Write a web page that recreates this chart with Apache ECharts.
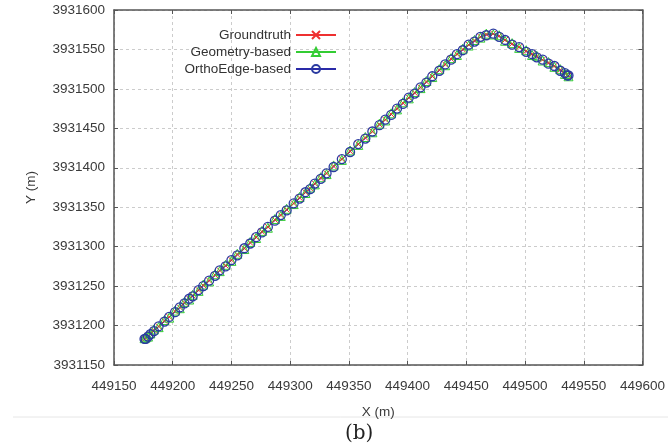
<!DOCTYPE html>
<html lang="en">
<head>
    <meta charset="UTF-8">
    <title>Trajectory</title>
    <style>
        html, body { margin: 0; padding: 0; background: #fff; }
        #main { width: 668px; height: 445px; }
    </style>
</head>
<body>
    <div id="main"></div>
    <script src="https://cdn.jsdelivr.net/npm/echarts@6/dist/echarts.min.js"></script>
    <script>
        // tick settings
        var xTicks = { min: 449150, max: 449600, step: 50 }
        var yTicks = { min: 3931150, max: 3931600, step: 50 }

        // shared x positions of the track (m)
        var trackX = [449176, 449177, 449179, 449181, 449184, 449188, 449193, 449197, 449202, 449206,
            449210, 449214, 449217, 449222, 449226, 449231, 449236, 449240, 449245, 449250,
            449255, 449261, 449266, 449271, 449276, 449281, 449287, 449292, 449297, 449303,
            449308, 449313, 449317, 449321, 449326, 449331, 449337, 449344, 449351, 449358,
            449364, 449370, 449376, 449381, 449386, 449391, 449396, 449401, 449406, 449411,
            449416, 449421, 449427, 449432, 449437, 449442, 449447, 449452, 449457, 449462,
            449467, 449473, 449478, 449483, 449489, 449495, 449501, 449506, 449510, 449515,
            449520, 449525, 449530, 449534, 449536, 449537]

        var groundtruthY = [3931183, 3931184, 3931187, 3931189, 3931194, 3931199, 3931206, 3931211, 3931218, 3931223,
            3931229, 3931234, 3931238, 3931245, 3931251, 3931257, 3931264, 3931270, 3931276, 3931283,
            3931290, 3931298, 3931305, 3931312, 3931319, 3931325, 3931334, 3931340, 3931347, 3931355,
            3931362, 3931369, 3931374, 3931380, 3931387, 3931393, 3931402, 3931411, 3931421, 3931430,
            3931438, 3931446, 3931455, 3931461, 3931468, 3931475, 3931482, 3931489, 3931495, 3931502,
            3931509, 3931516, 3931524, 3931531, 3931538, 3931544, 3931550, 3931556, 3931561, 3931566,
            3931569, 3931570, 3931567, 3931562, 3931557, 3931553, 3931548, 3931544, 3931541, 3931537,
            3931533, 3931529, 3931524, 3931520, 3931518, 3931517]

        var geometryY = [3931184, 3931185, 3931186, 3931190, 3931195, 3931198, 3931207, 3931210, 3931219, 3931222,
            3931230, 3931233, 3931239, 3931244, 3931252, 3931256, 3931265, 3931269, 3931277, 3931282,
            3931291, 3931297, 3931306, 3931311, 3931320, 3931324, 3931335, 3931339, 3931348, 3931354,
            3931363, 3931368, 3931375, 3931379, 3931388, 3931392, 3931403, 3931410, 3931422, 3931429,
            3931439, 3931445, 3931456, 3931460, 3931469, 3931474, 3931483, 3931488, 3931496, 3931501,
            3931510, 3931515, 3931525, 3931530, 3931539, 3931543, 3931551, 3931555, 3931562, 3931565,
            3931570, 3931569, 3931568, 3931561, 3931558, 3931552, 3931549, 3931543, 3931542, 3931536,
            3931534, 3931528, 3931525, 3931519, 3931519, 3931516]

        var orthoEdgeY = [3931183, 3931183, 3931186, 3931189, 3931193, 3931199, 3931205, 3931211, 3931217, 3931223,
            3931228, 3931234, 3931237, 3931245, 3931250, 3931257, 3931263, 3931270, 3931275, 3931283,
            3931289, 3931298, 3931304, 3931312, 3931318, 3931325, 3931333, 3931340, 3931346, 3931355,
            3931361, 3931369, 3931373, 3931380, 3931386, 3931393, 3931401, 3931411, 3931420, 3931430,
            3931437, 3931446, 3931454, 3931461, 3931467, 3931475, 3931481, 3931489, 3931494, 3931502,
            3931508, 3931516, 3931523, 3931531, 3931537, 3931544, 3931549, 3931556, 3931560, 3931566,
            3931568, 3931570, 3931566, 3931562, 3931556, 3931553, 3931547, 3931544, 3931540, 3931537,
            3931532, 3931529, 3931523, 3931520, 3931517, 3931517]

        function pairs(xs, ys) {
            return xs.map(function (x, i) { return [x, ys[i]] })
        }

        // plain numbers, no thousands separator
        function plain(v) { return String(v) }

        var labelFont = { fontFamily: 'Liberation Sans', fontSize: 13.5, color: '#3a3a3a' }
        var frameLine = { lineStyle: { color: '#555', width: 1.5 } }
        var innerTick = { inside: true, length: 4, lineStyle: { color: '#555' } }

        var myChart = echarts.init(document.getElementById('main'))
        var option = {
            backgroundColor: '#fff',
            animation: false,
            grid: { left: 114, right: 20, top: 10, bottom: 80 },
            legend: {
                orient: 'vertical',
                align: 'right',
                right: 326,
                top: 23,
                itemWidth: 40,
                itemHeight: 10,
                itemGap: 3,
                textStyle: { fontFamily: 'Liberation Sans', fontSize: 13.5, color: '#333' },
                data: ['Groundtruth', 'Geometry-based', 'OrthoEdge-based']
            },
            xAxis: [{
                type: 'value',
                min: xTicks.min, max: xTicks.max, interval: xTicks.step,
                name: 'X (m)', nameLocation: 'middle', nameGap: 40,
                nameTextStyle: labelFont,
                axisLine: frameLine,
                axisTick: innerTick,
                axisLabel: Object.assign({ margin: 14, formatter: plain }, labelFont),
                splitLine: { show: true, lineStyle: { color: '#ccc', type: [3, 3] } }
            }, {
                type: 'value', position: 'top',
                min: xTicks.min, max: xTicks.max, interval: xTicks.step,
                axisLine: frameLine,
                axisTick: innerTick,
                axisLabel: { show: false },
                splitLine: { show: false }
            }],
            yAxis: [{
                type: 'value',
                min: yTicks.min, max: yTicks.max, interval: yTicks.step,
                name: 'Y (m)', nameLocation: 'middle', nameGap: 76,
                nameTextStyle: labelFont,
                axisLine: frameLine,
                axisTick: innerTick,
                axisLabel: Object.assign({ margin: 9, formatter: plain }, labelFont),
                splitLine: { show: true, lineStyle: { color: '#ccc', type: [3, 3] } }
            }, {
                type: 'value', position: 'right',
                min: yTicks.min, max: yTicks.max, interval: yTicks.step,
                axisLine: frameLine,
                axisTick: innerTick,
                axisLabel: { show: false },
                splitLine: { show: false }
            }],
            series: [
                {
                    name: 'Groundtruth', type: 'line',
                    data: pairs(trackX, groundtruthY),
                    symbol: 'path://M0,0L10,10M10,0L0,10', symbolSize: 6,
                    lineStyle: { color: '#ee3030', width: 1 },
                    itemStyle: { color: '#ee3030', borderColor: '#ee3030', borderWidth: 1 }
                },
                {
                    name: 'Geometry-based', type: 'line',
                    data: pairs(trackX, geometryY),
                    symbol: 'triangle', symbolSize: 9,
                    lineStyle: { color: '#33cc33', width: 1 },
                    itemStyle: { color: 'rgba(0,0,0,0)', borderColor: '#33cc33', borderWidth: 1 }
                },
                {
                    name: 'OrthoEdge-based', type: 'line',
                    data: pairs(trackX, orthoEdgeY),
                    symbol: 'circle', symbolSize: 9,
                    lineStyle: { color: '#2a2aa8', width: 1 },
                    itemStyle: { color: 'rgba(0,0,0,0)', borderColor: '#2a3aa0', borderWidth: 1.3 }
                }
            ],
            graphic: [
                {
                    type: 'line', silent: true,
                    shape: { x1: 13, y1: 417, x2: 668, y2: 417 },
                    style: { stroke: '#e6e6e6', lineWidth: 1 }
                },
                {
                    type: 'text', left: 345, top: 424, silent: true,
                    style: { text: '(b)', fontFamily: 'DejaVu Serif', fontSize: 20, fill: '#222' }
                }
            ]
        }
        myChart.setOption(option)
    </script>
</body>
</html>
